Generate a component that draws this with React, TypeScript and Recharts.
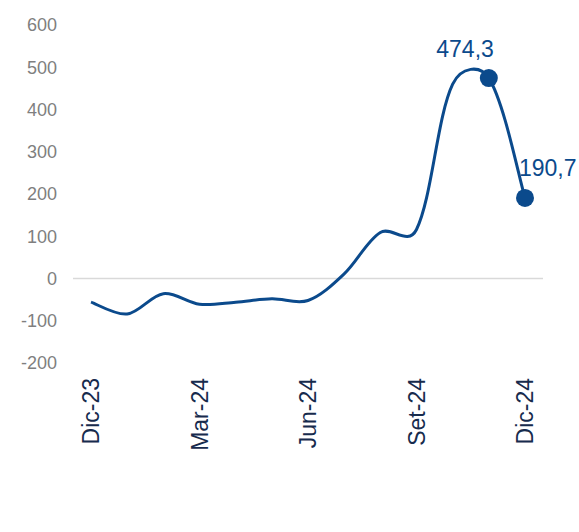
import React from 'react';
import { LineChart, Line, XAxis, YAxis, CartesianGrid, LabelList } from 'recharts';

const months = [
  'Dic-23', 'Ene-24', 'Feb-24', 'Mar-24', 'Abr-24', 'May-24', 'Jun-24',
  'Jul-24', 'Ago-24', 'Set-24', 'Oct-24', 'Nov-24', 'Dic-24',
];
const values = [-56, -84, -36, -61, -56, -48, -52, 11, 109, 116, 460, 474.3, 190.7];
const yTicks = [-200, -100, 0, 100, 200, 300, 400, 500, 600];
const labeledMonths = ['Nov-24', 'Dic-24'];

const data = months.map((m, i) => ({ label: m, value: values[i] }));

const LINE = '#0B4A8C';
const FONT = 'Arial, "Liberation Sans", sans-serif';

// Excel-like smoothing: neighbour tangents, half uniform, half scaled by segment length
const smoothCurve = (context: any) => {
  let xs: number[] = [];
  let ys: number[] = [];
  return {
    areaStart() {},
    areaEnd() {},
    lineStart() {
      xs = [];
      ys = [];
    },
    point(x: number, y: number) {
      xs.push(+x);
      ys.push(+y);
    },
    lineEnd() {
      const n = xs.length;
      if (!n) return;
      const dist = (i: number, j: number) => Math.hypot(xs[j] - xs[i], ys[j] - ys[i]);
      const inC: number[][] = [];
      const outC: number[][] = [];
      for (let i = 0; i < n; i++) {
        const p = Math.max(i - 1, 0);
        const q = Math.min(i + 1, n - 1);
        const tx = xs[q] - xs[p];
        const ty = ys[q] - ys[p];
        const d0 = dist(p, i);
        const d1 = dist(i, q);
        let fIn = 1 / 6;
        let fOut = 1 / 6;
        if (i > 0 && i < n - 1 && d0 + d1 > 0) {
          fIn = 0.5 / 6 + 0.5 * (d0 / (d0 + d1) / 3);
          fOut = 0.5 / 6 + 0.5 * (d1 / (d0 + d1) / 3);
        }
        inC.push([xs[i] - tx * fIn, ys[i] - ty * fIn]);
        outC.push([xs[i] + tx * fOut, ys[i] + ty * fOut]);
      }
      context.moveTo(xs[0], ys[0]);
      for (let i = 0; i < n - 1; i++) {
        context.bezierCurveTo(outC[i][0], outC[i][1], inC[i + 1][0], inC[i + 1][1], xs[i + 1], ys[i + 1]);
      }
    },
  };
};

const MonthTick = ({ x, y, payload }: any) => (
  <text
    x={x}
    y={y}
    transform={`rotate(-90, ${x}, ${y})`}
    textAnchor="end"
    dy="0.35em"
    fill="#172B4D"
    fontSize={23}
    fontFamily={FONT}
  >
    {payload.value}
  </text>
);

const renderDot = (props: any) => {
  const { cx, cy, index } = props;
  if (!labeledMonths.includes(months[index])) return <g key={`d-${index}`} />;
  return <circle key={`d-${index}`} cx={cx} cy={cy} r={9} fill={LINE} />;
};

const renderLabel = (props: any) => {
  const { x, y, index, value } = props;
  if (!labeledMonths.includes(months[index])) return null;
  const last = index === months.length - 1;
  return (
    <text
      x={last ? x - 6 : x + 5}
      y={last ? y - 30 : y - 29}
      textAnchor={last ? 'start' : 'end'}
      dy="0.35em"
      fill={LINE}
      fontSize={23}
      fontFamily={FONT}
    >
      {Number(value).toFixed(1).replace('.', ',')}
    </text>
  );
};

export default function App() {
  return (
    <div style={{ position: 'absolute', left: 0, top: 0, width: 579, height: 532, background: '#fff' }}>
      <LineChart width={579} height={532} data={data} margin={{ top: 25, right: 36, bottom: 139, left: 0 }}>
        <CartesianGrid vertical={false} horizontalValues={[0]} stroke="#D9D9D9" strokeWidth={1.5} />
        <XAxis
          dataKey="label"
          height={30}
          interval={2}
          padding={{ left: 18, right: 18 }}
          axisLine={false}
          tickLine={false}
          tickSize={0}
          tickMargin={15}
          tick={<MonthTick />}
        />
        <YAxis
          width={73}
          domain={[-200, 600]}
          ticks={yTicks}
          axisLine={false}
          tickLine={false}
          tickSize={0}
          tickMargin={16}
          tick={{ fill: '#7F7F7F', fontSize: 18, fontFamily: FONT }}
        />
        <Line
          type={smoothCurve as any}
          dataKey="value"
          stroke={LINE}
          strokeWidth={3}
          dot={renderDot}
          activeDot={false}
          isAnimationActive={false}
        >
          <LabelList dataKey="value" content={renderLabel} />
        </Line>
      </LineChart>
    </div>
  );
}
